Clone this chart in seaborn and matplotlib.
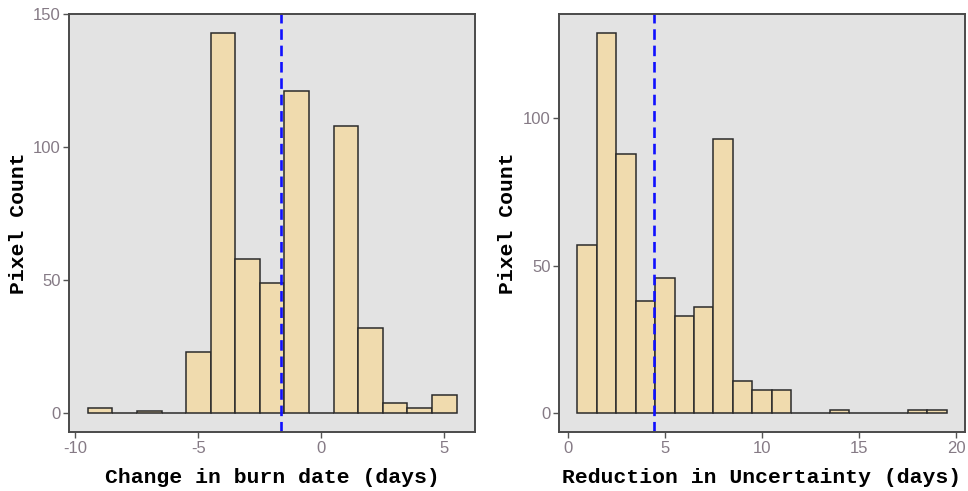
import matplotlib
matplotlib.use("Agg")
import matplotlib.pyplot as plt
import seaborn as sns

# bin centres (days) and pixel counts
burn_change_days = [-9, -8, -7, -6, -5, -4, -3, -2, -1, 0, 1, 2, 3, 4, 5]
burn_change_counts = [2, 0, 1, 0, 23, 143, 58, 49, 121, 0, 108, 32, 4, 2, 7]
burn_change_mean = -1.62

uncert_days = [1, 2, 3, 4, 5, 6, 7, 8, 9, 10, 11, 12, 13, 14, 15, 16, 17, 18, 19]
uncert_counts = [57, 129, 88, 38, 46, 33, 36, 93, 11, 8, 8, 0, 0, 1, 0, 0, 0, 1, 1]
uncert_mean = 4.44

left_ticks = [-10, -5, 0, 5]
right_ticks = [0, 5, 10, 15, 20]
left_yticks = [0, 50, 100, 150]
right_yticks = [0, 50, 100]

FILL = "#F0DBAE"
PANEL = "#E3E3E3"
TICK_COLOR = "#857A85"
LABEL_FONT = dict(family="Liberation Mono", weight="bold", size=15.4, color="black")

sns.set_style("white")
plt.rcParams["font.family"] = ["Liberation Sans", "DejaVu Sans"]
plt.rcParams["axes.unicode_minus"] = False

fig = plt.figure(figsize=(9.68, 4.91), dpi=100)
W, H = 968, 491
top, bottom = 13.7, 432.3
ax_left = fig.add_axes([69.3 / W, 1 - bottom / H, (475 - 69.3) / W, (bottom - top) / H])
ax_right = fig.add_axes([559 / W, 1 - bottom / H, (965 - 559) / W, (bottom - top) / H])


def _panel(ax, centres, counts, mean, xticks, yticks, xlabel):
	sns.histplot(
		x=centres,
		weights=counts,
		discrete=True,
		ax=ax,
		color=FILL,
		alpha=1,
		edgecolor="#2b2b2b",
		linewidth=1.1,
	)
	ax.axvline(mean, color="#1010FF", lw=1.9, dashes=(4, 2.2))
	lo, hi = centres[0] - 0.5, centres[-1] + 0.5
	pad = (hi - lo) * 0.05
	ax.set_xlim(lo - pad, hi + pad)
	ymax = max(counts)
	ax.set_ylim(-ymax * 0.05, ymax * 1.05)
	ax.set_facecolor(PANEL)
	ax.set_xticks(xticks)
	ax.set_yticks(yticks)
	ax.tick_params(
		axis="both", direction="out", length=4, width=1, color="#555555",
		labelcolor=TICK_COLOR, labelsize=12, pad=2,
		bottom=True, left=True,
	)
	for spine in ax.spines.values():
		spine.set_color("#4A4A4A")
		spine.set_linewidth(1.4)
	ax.set_xlabel(xlabel, **LABEL_FONT, labelpad=9)
	ax.set_ylabel("Pixel Count", **LABEL_FONT, labelpad=4)
	ax.grid(False)


_panel(ax_left, burn_change_days, burn_change_counts, burn_change_mean,
       left_ticks, left_yticks, "Change in burn date (days)")
_panel(ax_right, uncert_days, uncert_counts, uncert_mean,
       right_ticks, right_yticks, "Reduction in Uncertainty (days)")

fig.savefig("out.png", dpi=100)
